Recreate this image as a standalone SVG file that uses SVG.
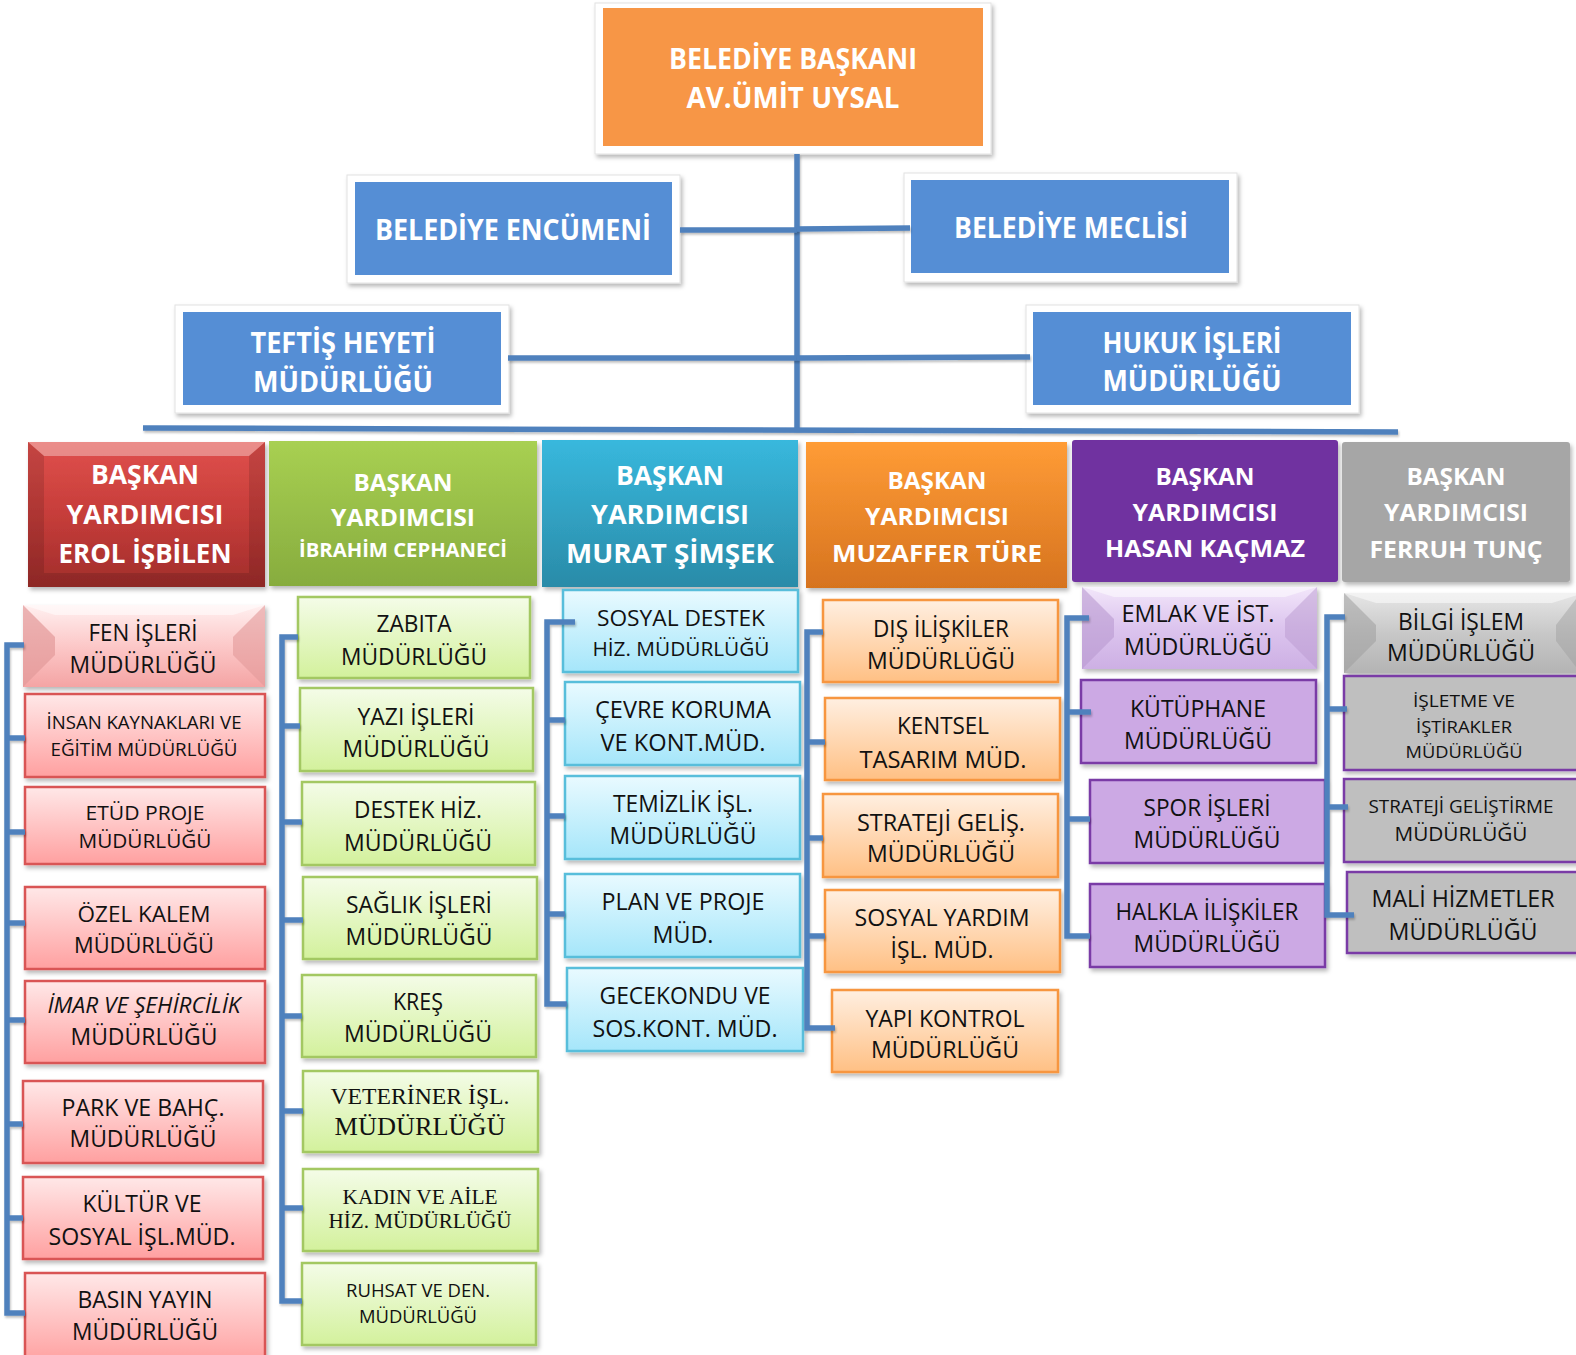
<svg xmlns="http://www.w3.org/2000/svg" width="1576" height="1355" viewBox="0 0 1576 1355">
<defs>
<filter id="sh" x="-10%" y="-10%" width="125%" height="130%"><feDropShadow dx="2" dy="3" stdDeviation="2" flood-color="#000" flood-opacity="0.28"/></filter>
<filter id="lsh" filterUnits="userSpaceOnUse" x="0" y="0" width="1576" height="1355"><feDropShadow dx="1" dy="2" stdDeviation="1" flood-color="#000" flood-opacity="0.25"/></filter>
<linearGradient id="gRed" x1="0" y1="0" x2="0" y2="1"><stop offset="0" stop-color="#E0504C"/><stop offset="0.5" stop-color="#C63D3A"/><stop offset="1" stop-color="#A12D2B"/></linearGradient>
<linearGradient id="gGreen" x1="0" y1="0" x2="0" y2="1"><stop offset="0" stop-color="#A8D052"/><stop offset="1" stop-color="#87AC3E"/></linearGradient>
<linearGradient id="gTeal" x1="0" y1="0" x2="0" y2="1"><stop offset="0" stop-color="#38B8DD"/><stop offset="1" stop-color="#2A8BA8"/></linearGradient>
<linearGradient id="gOrange" x1="0" y1="0" x2="0" y2="1"><stop offset="0" stop-color="#FF9C36"/><stop offset="1" stop-color="#D6731F"/></linearGradient>
<linearGradient id="cRed" x1="0" y1="0" x2="0" y2="1"><stop offset="0" stop-color="#FFE8E8"/><stop offset="1" stop-color="#FFA0A0"/></linearGradient>
<linearGradient id="cGreen" x1="0" y1="0" x2="0" y2="1"><stop offset="0" stop-color="#F4FCE8"/><stop offset="1" stop-color="#D3F19C"/></linearGradient>
<linearGradient id="cBlue" x1="0" y1="0" x2="0" y2="1"><stop offset="0" stop-color="#E9FAFF"/><stop offset="1" stop-color="#A5E6FA"/></linearGradient>
<linearGradient id="cOrange" x1="0" y1="0" x2="0" y2="1"><stop offset="0" stop-color="#FFEFE1"/><stop offset="1" stop-color="#FFC084"/></linearGradient>
<linearGradient id="bRed" x1="0" y1="0" x2="0" y2="1"><stop offset="0" stop-color="#FFF0F0"/><stop offset="0.5" stop-color="#FCC8C8"/><stop offset="1" stop-color="#F4A4A4"/></linearGradient>
<linearGradient id="bPurple" x1="0" y1="0" x2="0" y2="1"><stop offset="0" stop-color="#F2E6FA"/><stop offset="0.5" stop-color="#DCC4EE"/><stop offset="1" stop-color="#CDB0E4"/></linearGradient>
<linearGradient id="bGray" x1="0" y1="0" x2="0" y2="1"><stop offset="0" stop-color="#E6E6E6"/><stop offset="0.5" stop-color="#C8C8C8"/><stop offset="1" stop-color="#B4B4B4"/></linearGradient>
</defs>
<style>
.frame{fill:#fff;stroke:#e2e2e2;stroke-width:1;filter:url(#sh)}
.topbox{fill:#558ED5}
.tw{font-family:'Open Sans','Noto Sans','DejaVu Sans',sans-serif;font-weight:bold;fill:#fff;text-anchor:middle}
.t{font-family:'Open Sans','Noto Sans','DejaVu Sans',sans-serif;fill:#111;text-anchor:middle;font-size:23px}
.ts{font-family:'Liberation Serif','Times New Roman',serif;fill:#111;text-anchor:middle}
.hd{filter:url(#sh)}
.cr{fill:url(#cRed);stroke:#D95454;stroke-width:2.5;filter:url(#sh)}
.cg{fill:url(#cGreen);stroke:#A3C862;stroke-width:2.5;filter:url(#sh)}
.cb{fill:url(#cBlue);stroke:#59BEDB;stroke-width:2.5;filter:url(#sh)}
.co{fill:url(#cOrange);stroke:#F7963F;stroke-width:2.5;filter:url(#sh)}
.cp{fill:#CCA9E4;stroke:#7A3AA6;stroke-width:2.5;filter:url(#sh)}
.cy{fill:#BFBFBF;stroke:#7A3AA6;stroke-width:2.5;filter:url(#sh)}
.con{fill:none;stroke:#4F81BD;stroke-width:5.5;filter:url(#lsh)}
.bl{fill:#fff;opacity:0.35}
.bd{fill:#000;opacity:0.12}
</style>

<!-- top level -->
<g id="baskan">
<rect class="frame" x="595" y="3" width="396" height="151"/>
<rect x="603" y="8" width="380" height="138" fill="#F79646"/>
<text class="tw" x="793" y="69" font-size="28.5" textLength="248" lengthAdjust="spacingAndGlyphs">BELEDİYE BAŞKANI</text>
<text class="tw" x="793" y="108" font-size="28.5" textLength="213" lengthAdjust="spacingAndGlyphs">AV.ÜMİT UYSAL</text>
</g>
<g id="encumen">
<rect class="frame" x="347" y="175" width="333" height="108"/>
<rect class="topbox" x="355" y="182" width="317" height="93"/>
<text class="tw" x="513" y="240" font-size="29" textLength="276" lengthAdjust="spacingAndGlyphs">BELEDİYE ENCÜMENİ</text>
</g>
<g id="meclis">
<rect class="frame" x="904" y="173" width="333" height="109"/>
<rect class="topbox" x="911" y="180" width="318" height="93"/>
<text class="tw" x="1071" y="238" font-size="29" textLength="234" lengthAdjust="spacingAndGlyphs">BELEDİYE MECLİSİ</text>
</g>
<g id="teftis">
<rect class="frame" x="175" y="305" width="334" height="108"/>
<rect class="topbox" x="183" y="312" width="318" height="93"/>
<text class="tw" x="343" y="353" font-size="29" textLength="185" lengthAdjust="spacingAndGlyphs">TEFTİŞ HEYETİ</text>
<text class="tw" x="343" y="392" font-size="29" textLength="180" lengthAdjust="spacingAndGlyphs">MÜDÜRLÜĞÜ</text>
</g>
<g id="hukuk">
<rect class="frame" x="1026" y="305" width="333" height="108"/>
<rect class="topbox" x="1033" y="312" width="318" height="93"/>
<text class="tw" x="1192" y="353" font-size="29" textLength="179" lengthAdjust="spacingAndGlyphs">HUKUK İŞLERİ</text>
<text class="tw" x="1192" y="391" font-size="29" textLength="179" lengthAdjust="spacingAndGlyphs">MÜDÜRLÜĞÜ</text>
</g>

<!-- vice mayors -->
<g id="vp-erol">
<rect class="hd" x="28" y="442" width="237" height="145" fill="url(#gRed)"/>
<polygon class="bl" points="28,442 265,442 249,456 44,456" opacity="0.18"/>
<polygon class="bd" points="265,442 265,587 249,573 249,456"/>
<polygon class="bd" points="28,587 44,573 249,573 265,587" opacity="0.2"/>
<polygon class="bd" points="28,442 44,456 44,573 28,587" opacity="0.06"/>
<text class="tw" x="145" y="484" font-size="26" textLength="108" lengthAdjust="spacingAndGlyphs">BAŞKAN</text>
<text class="tw" x="145" y="524" font-size="26" textLength="157" lengthAdjust="spacingAndGlyphs">YARDIMCISI</text>
<text class="tw" x="145" y="563" font-size="26" textLength="173" lengthAdjust="spacingAndGlyphs">EROL İŞBİLEN</text>
</g>
<g id="vp-ibrahim">
<rect class="hd" x="269" y="441" width="268" height="145" fill="url(#gGreen)"/>
<text class="tw" x="403" y="491" font-size="24" textLength="99" lengthAdjust="spacingAndGlyphs">BAŞKAN</text>
<text class="tw" x="403" y="526" font-size="24" textLength="144" lengthAdjust="spacingAndGlyphs">YARDIMCISI</text>
<text class="tw" x="403" y="557" font-size="19.5" textLength="208" lengthAdjust="spacingAndGlyphs">İBRAHİM CEPHANECİ</text>
</g>
<g id="vp-murat">
<rect class="hd" x="542" y="440" width="256" height="147" fill="url(#gTeal)"/>
<text class="tw" x="670" y="485" font-size="26" textLength="108" lengthAdjust="spacingAndGlyphs">BAŞKAN</text>
<text class="tw" x="670" y="524" font-size="26" textLength="158" lengthAdjust="spacingAndGlyphs">YARDIMCISI</text>
<text class="tw" x="670" y="563" font-size="26" textLength="208" lengthAdjust="spacingAndGlyphs">MURAT ŞİMŞEK</text>
</g>
<g id="vp-muzaffer">
<rect class="hd" x="806" y="442" width="261" height="146" fill="url(#gOrange)"/>
<text class="tw" x="937" y="489" font-size="24" textLength="99" lengthAdjust="spacingAndGlyphs">BAŞKAN</text>
<text class="tw" x="937" y="525" font-size="24" textLength="144" lengthAdjust="spacingAndGlyphs">YARDIMCISI</text>
<text class="tw" x="937" y="562" font-size="24" textLength="210" lengthAdjust="spacingAndGlyphs">MUZAFFER TÜRE</text>
</g>
<g id="vp-hasan">
<rect class="hd" x="1072" y="440" width="266" height="142" rx="3" fill="#7030A0"/>
<text class="tw" x="1205" y="485" font-size="24" textLength="99" lengthAdjust="spacingAndGlyphs">BAŞKAN</text>
<text class="tw" x="1205" y="521" font-size="24" textLength="145" lengthAdjust="spacingAndGlyphs">YARDIMCISI</text>
<text class="tw" x="1205" y="557" font-size="24" textLength="200" lengthAdjust="spacingAndGlyphs">HASAN KAÇMAZ</text>
</g>
<g id="vp-ferruh">
<rect class="hd" x="1342" y="442" width="228" height="140" rx="3" fill="#A6A6A6"/>
<text class="tw" x="1456" y="485" font-size="24" textLength="99" lengthAdjust="spacingAndGlyphs">BAŞKAN</text>
<text class="tw" x="1456" y="521" font-size="24" textLength="144" lengthAdjust="spacingAndGlyphs">YARDIMCISI</text>
<text class="tw" x="1456" y="558" font-size="24" textLength="173" lengthAdjust="spacingAndGlyphs">FERRUH TUNÇ</text>
</g>

<!-- column 1 -->
<g id="fen">
<rect class="hd" x="23" y="605" width="242" height="82" fill="url(#bRed)"/>
<polygon points="23,605 55,637 55,655 23,687" fill="#E29A9A" opacity="0.7"/>
<polygon points="265,605 233,637 233,655 265,687" fill="#E29A9A" opacity="0.6"/>
<polygon points="23,605 265,605 233,615 55,615" fill="#fff" opacity="0.5"/>
<text class="t" x="143" y="641" textLength="109" lengthAdjust="spacingAndGlyphs">FEN İŞLERİ</text>
<text class="t" x="143" y="673" textLength="147" lengthAdjust="spacingAndGlyphs">MÜDÜRLÜĞÜ</text>
</g>
<g id="insan">
<rect class="cr" x="25" y="694" width="240" height="83"/>
<text class="t" x="144" y="729" style="font-size:18px" textLength="195" lengthAdjust="spacingAndGlyphs">İNSAN KAYNAKLARI VE</text>
<text class="t" x="144" y="756" style="font-size:18px" textLength="187" lengthAdjust="spacingAndGlyphs">EĞİTİM MÜDÜRLÜĞÜ</text>
</g>
<g id="etud">
<rect class="cr" x="25" y="787" width="240" height="77"/>
<text class="t" x="145" y="820" style="font-size:20px" textLength="119" lengthAdjust="spacingAndGlyphs">ETÜD PROJE</text>
<text class="t" x="145" y="848" style="font-size:20px" textLength="133" lengthAdjust="spacingAndGlyphs">MÜDÜRLÜĞÜ</text>
</g>
<g id="ozel">
<rect class="cr" x="25" y="887" width="240" height="82"/>
<text class="t" x="144" y="922" style="font-size:22px" textLength="133" lengthAdjust="spacingAndGlyphs">ÖZEL KALEM</text>
<text class="t" x="144" y="953" style="font-size:22px" textLength="140" lengthAdjust="spacingAndGlyphs">MÜDÜRLÜĞÜ</text>
</g>
<g id="imar">
<rect class="cr" x="25" y="981" width="240" height="82"/>
<text class="t" x="144" y="1013" style="font-size:21px;font-style:italic" textLength="193" lengthAdjust="spacingAndGlyphs">İMAR VE ŞEHİRCİLİK</text>
<text class="t" x="144" y="1045" textLength="147" lengthAdjust="spacingAndGlyphs">MÜDÜRLÜĞÜ</text>
</g>
<g id="park">
<rect class="cr" x="23" y="1081" width="240" height="82"/>
<text class="t" x="143" y="1116" textLength="163" lengthAdjust="spacingAndGlyphs">PARK VE BAHÇ.</text>
<text class="t" x="143" y="1147" textLength="147" lengthAdjust="spacingAndGlyphs">MÜDÜRLÜĞÜ</text>
</g>
<g id="kultur">
<rect class="cr" x="23" y="1177" width="240" height="82"/>
<text class="t" x="142" y="1212" textLength="119" lengthAdjust="spacingAndGlyphs">KÜLTÜR VE</text>
<text class="t" x="142" y="1245" textLength="187" lengthAdjust="spacingAndGlyphs">SOSYAL İŞL.MÜD.</text>
</g>
<g id="basin">
<rect class="cr" x="25" y="1273" width="240" height="90"/>
<text class="t" x="145" y="1308" textLength="135" lengthAdjust="spacingAndGlyphs">BASIN YAYIN</text>
<text class="t" x="145" y="1340" textLength="146" lengthAdjust="spacingAndGlyphs">MÜDÜRLÜĞÜ</text>
</g>

<!-- column 2 -->
<g id="zabita">
<rect class="cg" x="298" y="597" width="232" height="81"/>
<text class="t" x="414" y="632" textLength="75" lengthAdjust="spacingAndGlyphs">ZABITA</text>
<text class="t" x="414" y="665" textLength="146" lengthAdjust="spacingAndGlyphs">MÜDÜRLÜĞÜ</text>
</g>
<g id="yazi">
<rect class="cg" x="300" y="688" width="233" height="83"/>
<text class="t" x="416" y="725" textLength="117" lengthAdjust="spacingAndGlyphs">YAZI İŞLERİ</text>
<text class="t" x="416" y="757" textLength="147" lengthAdjust="spacingAndGlyphs">MÜDÜRLÜĞÜ</text>
</g>
<g id="destek">
<rect class="cg" x="302" y="782" width="233" height="83"/>
<text class="t" x="418" y="818" textLength="128" lengthAdjust="spacingAndGlyphs">DESTEK HİZ.</text>
<text class="t" x="418" y="851" textLength="148" lengthAdjust="spacingAndGlyphs">MÜDÜRLÜĞÜ</text>
</g>
<g id="saglik">
<rect class="cg" x="303" y="877" width="234" height="82"/>
<text class="t" x="419" y="913" textLength="146" lengthAdjust="spacingAndGlyphs">SAĞLIK İŞLERİ</text>
<text class="t" x="419" y="945" textLength="147" lengthAdjust="spacingAndGlyphs">MÜDÜRLÜĞÜ</text>
</g>
<g id="kres">
<rect class="cg" x="302" y="975" width="234" height="82"/>
<text class="t" x="418" y="1010" textLength="50" lengthAdjust="spacingAndGlyphs">KREŞ</text>
<text class="t" x="418" y="1042" textLength="148" lengthAdjust="spacingAndGlyphs">MÜDÜRLÜĞÜ</text>
</g>
<g id="veteriner">
<rect class="cg" x="303" y="1071" width="235" height="81"/>
<text class="ts" x="420" y="1104" font-size="24" textLength="179" lengthAdjust="spacingAndGlyphs">VETERİNER İŞL.</text>
<text class="ts" x="420" y="1135" font-size="26" textLength="171" lengthAdjust="spacingAndGlyphs">MÜDÜRLÜĞÜ</text>
</g>
<g id="kadin">
<rect class="cg" x="303" y="1169" width="235" height="82"/>
<text class="ts" x="420" y="1204" font-size="20.5" textLength="155" lengthAdjust="spacingAndGlyphs">KADIN VE AİLE</text>
<text class="ts" x="420" y="1228" font-size="20.5" textLength="183" lengthAdjust="spacingAndGlyphs">HİZ. MÜDÜRLÜĞÜ</text>
</g>
<g id="ruhsat">
<rect class="cg" x="302" y="1263" width="234" height="82"/>
<text class="t" x="418" y="1297" style="font-size:18px" textLength="144" lengthAdjust="spacingAndGlyphs">RUHSAT VE DEN.</text>
<text class="t" x="418" y="1323" style="font-size:18px" textLength="118" lengthAdjust="spacingAndGlyphs">MÜDÜRLÜĞÜ</text>
</g>

<!-- column 3 -->
<g id="sosyaldestek">
<rect class="cb" x="563" y="590" width="235" height="82"/>
<text class="t" x="681" y="626" style="font-size:21px" textLength="168" lengthAdjust="spacingAndGlyphs">SOSYAL DESTEK</text>
<text class="t" x="681" y="656" style="font-size:20.5px" textLength="177" lengthAdjust="spacingAndGlyphs">HİZ. MÜDÜRLÜĞÜ</text>
</g>
<g id="cevre">
<rect class="cb" x="565" y="682" width="235" height="83"/>
<text class="t" x="683" y="718" textLength="176" lengthAdjust="spacingAndGlyphs">ÇEVRE KORUMA</text>
<text class="t" x="683" y="751" textLength="165" lengthAdjust="spacingAndGlyphs">VE KONT.MÜD.</text>
</g>
<g id="temizlik">
<rect class="cb" x="565" y="776" width="235" height="83"/>
<text class="t" x="683" y="812" textLength="140" lengthAdjust="spacingAndGlyphs">TEMİZLİK İŞL.</text>
<text class="t" x="683" y="844" textLength="147" lengthAdjust="spacingAndGlyphs">MÜDÜRLÜĞÜ</text>
</g>
<g id="plan">
<rect class="cb" x="565" y="874" width="235" height="83"/>
<text class="t" x="683" y="910" textLength="163" lengthAdjust="spacingAndGlyphs">PLAN VE PROJE</text>
<text class="t" x="683" y="943" textLength="61" lengthAdjust="spacingAndGlyphs">MÜD.</text>
</g>
<g id="gecekondu">
<rect class="cb" x="567" y="968" width="236" height="83"/>
<text class="t" x="685" y="1004" textLength="171" lengthAdjust="spacingAndGlyphs">GECEKONDU VE</text>
<text class="t" x="685" y="1037" textLength="185" lengthAdjust="spacingAndGlyphs">SOS.KONT. MÜD.</text>
</g>

<!-- column 4 -->
<g id="dis">
<rect class="co" x="823" y="600" width="235" height="82"/>
<text class="t" x="941" y="637" textLength="136" lengthAdjust="spacingAndGlyphs">DIŞ İLİŞKİLER</text>
<text class="t" x="941" y="669" textLength="148" lengthAdjust="spacingAndGlyphs">MÜDÜRLÜĞÜ</text>
</g>
<g id="kentsel">
<rect class="co" x="825" y="698" width="235" height="82"/>
<text class="t" x="943" y="734" textLength="92" lengthAdjust="spacingAndGlyphs">KENTSEL</text>
<text class="t" x="943" y="768" textLength="167" lengthAdjust="spacingAndGlyphs">TASARIM MÜD.</text>
</g>
<g id="stratejigelis">
<rect class="co" x="823" y="794" width="235" height="83"/>
<text class="t" x="941" y="831" textLength="168" lengthAdjust="spacingAndGlyphs">STRATEJİ GELİŞ.</text>
<text class="t" x="941" y="862" textLength="148" lengthAdjust="spacingAndGlyphs">MÜDÜRLÜĞÜ</text>
</g>
<g id="sosyalyardim">
<rect class="co" x="825" y="890" width="235" height="82"/>
<text class="t" x="942" y="926" textLength="175" lengthAdjust="spacingAndGlyphs">SOSYAL YARDIM</text>
<text class="t" x="942" y="958" textLength="103" lengthAdjust="spacingAndGlyphs">İŞL. MÜD.</text>
</g>
<g id="yapi">
<rect class="co" x="832" y="990" width="226" height="82"/>
<text class="t" x="945" y="1027" textLength="159" lengthAdjust="spacingAndGlyphs">YAPI KONTROL</text>
<text class="t" x="945" y="1058" textLength="148" lengthAdjust="spacingAndGlyphs">MÜDÜRLÜĞÜ</text>
</g>

<!-- column 5 -->
<g id="emlak">
<rect class="hd" x="1082" y="587" width="235" height="82" fill="url(#bPurple)"/>
<polygon points="1082,587 1114,619 1114,637 1082,669" fill="#B99AD0" opacity="0.6"/>
<polygon points="1317,587 1285,619 1285,637 1317,669" fill="#B99AD0" opacity="0.5"/>
<polygon points="1082,587 1317,587 1285,597 1114,597" fill="#fff" opacity="0.5"/>
<text class="t" x="1198" y="622" textLength="153" lengthAdjust="spacingAndGlyphs">EMLAK VE İST.</text>
<text class="t" x="1198" y="655" textLength="148" lengthAdjust="spacingAndGlyphs">MÜDÜRLÜĞÜ</text>
</g>
<g id="kutuphane">
<rect class="cp" x="1081" y="680" width="235" height="83"/>
<text class="t" x="1198" y="717" textLength="136" lengthAdjust="spacingAndGlyphs">KÜTÜPHANE</text>
<text class="t" x="1198" y="749" textLength="148" lengthAdjust="spacingAndGlyphs">MÜDÜRLÜĞÜ</text>
</g>
<g id="spor">
<rect class="cp" x="1090" y="780" width="235" height="83"/>
<text class="t" x="1207" y="816" textLength="127" lengthAdjust="spacingAndGlyphs">SPOR İŞLERİ</text>
<text class="t" x="1207" y="848" textLength="147" lengthAdjust="spacingAndGlyphs">MÜDÜRLÜĞÜ</text>
</g>
<g id="halkla">
<rect class="cp" x="1090" y="884" width="235" height="83"/>
<text class="t" x="1207" y="920" textLength="183" lengthAdjust="spacingAndGlyphs">HALKLA İLİŞKİLER</text>
<text class="t" x="1207" y="952" textLength="147" lengthAdjust="spacingAndGlyphs">MÜDÜRLÜĞÜ</text>
</g>

<!-- column 6 -->
<g id="bilgi">
<rect class="hd" x="1344" y="593" width="240" height="80" fill="url(#bGray)"/>
<polygon points="1344,593 1376,625 1376,641 1344,673" fill="#9E9E9E" opacity="0.55"/>
<polygon points="1344,593 1584,593 1552,603 1376,603" fill="#fff" opacity="0.5"/>
<polygon points="1576,599 1556,625 1556,641 1576,667" fill="#9E9E9E" opacity="0.45"/>
<text class="t" x="1461" y="630" textLength="126" lengthAdjust="spacingAndGlyphs">BİLGİ İŞLEM</text>
<text class="t" x="1461" y="661" textLength="148" lengthAdjust="spacingAndGlyphs">MÜDÜRLÜĞÜ</text>
</g>
<g id="isletme">
<rect class="cy" x="1344" y="676" width="240" height="94"/>
<text class="t" x="1464" y="707" style="font-size:17px" textLength="102" lengthAdjust="spacingAndGlyphs">İŞLETME VE</text>
<text class="t" x="1464" y="733" style="font-size:17px" textLength="96" lengthAdjust="spacingAndGlyphs">İŞTİRAKLER</text>
<text class="t" x="1464" y="758" style="font-size:17px" textLength="117" lengthAdjust="spacingAndGlyphs">MÜDÜRLÜĞÜ</text>
</g>
<g id="stratejigelistirme">
<rect class="cy" x="1344" y="779" width="240" height="83"/>
<text class="t" x="1461" y="813" style="font-size:18px" textLength="185" lengthAdjust="spacingAndGlyphs">STRATEJİ GELİŞTİRME</text>
<text class="t" x="1461" y="841" style="font-size:20px" textLength="133" lengthAdjust="spacingAndGlyphs">MÜDÜRLÜĞÜ</text>
</g>
<g id="mali">
<rect class="cy" x="1347" y="872" width="237" height="81"/>
<text class="t" x="1463" y="907" textLength="183" lengthAdjust="spacingAndGlyphs">MALİ HİZMETLER</text>
<text class="t" x="1463" y="940" textLength="149" lengthAdjust="spacingAndGlyphs">MÜDÜRLÜĞÜ</text>
</g>

<!-- connectors -->
<g id="connectors">
<path class="con" d="M797,154 V430"/>
<path class="con" d="M680,230 H797"/>
<path class="con" d="M797,229 L910,228"/>
<path class="con" d="M508,358 H797"/>
<path class="con" d="M797,358 L1030,357"/>
<path class="con" d="M143,428 L1398,432"/>
<path class="con" d="M24,645 H7 V1313 H25 M7,738 H25 M7,832 H25 M7,923 H25 M7,1020 H25 M7,1124 H23 M7,1218 H23"/>
<path class="con" d="M298,637 H282 V1301 H302 M282,726 H300 M282,822 H302 M282,920 H303 M282,1016 H302 M282,1111 H303 M282,1208 H303"/>
<path class="con" d="M575,622 H547 V1004 H567 M547,720 H565 M547,816 H565 M547,914 H565"/>
<path class="con" d="M823,632 H807 V1028 H835 M807,742 H825 M807,838 H823 M807,936 H825"/>
<path class="con" d="M1089,618 H1067 V936 H1090 M1067,712 H1091 M1067,819 H1090"/>
<path class="con" d="M1345,617 H1327 V915 H1354 M1327,709 H1347 M1327,807 H1348"/>
</g>
</svg>
